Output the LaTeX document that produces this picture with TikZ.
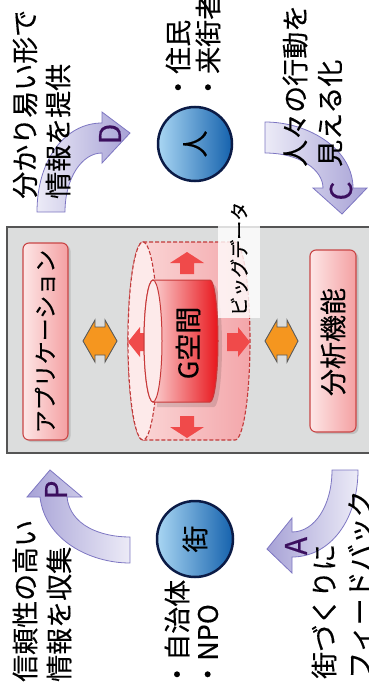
\documentclass[tikz,border=0pt]{standalone}
\usepackage{fontspec}
\newfontfamily\jp[FakeBold=0.3]{Noto Sans CJK JP}
\usetikzlibrary{shadows}
\definecolor{boxred}{HTML}{C94545}
\definecolor{boxlight}{HTML}{FDE6E6}
\definecolor{boxdark}{HTML}{F4A0A2}
\definecolor{arrborder}{HTML}{7D76C2}
\definecolor{arrlight}{HTML}{ECEBF7}
\definecolor{arrdark}{HTML}{A7A2D6}
\definecolor{letterc}{HTML}{3B0F5E}
\definecolor{navyc}{HTML}{0B1B46}
\definecolor{bluel}{HTML}{A9D6F3}
\definecolor{blued}{HTML}{1562AD}
\definecolor{orangec}{HTML}{F5961F}
\definecolor{graydark}{HTML}{5B5B5B}
\definecolor{redarrc}{HTML}{F04A4A}
\definecolor{platform}{HTML}{DCDDDD}
\definecolor{platborder}{HTML}{555555}
\definecolor{cylborder}{HTML}{C23A3A}
\definecolor{cyla}{HTML}{FBDADA}
\definecolor{cylb}{HTML}{F3A6AA}
\definecolor{cylell}{HTML}{FDEAEA}
\definecolor{innerb}{HTML}{C83A3A}
\definecolor{innera}{HTML}{FDE6E6}
\definecolor{innerc}{HTML}{E8161C}
\begin{document}
\begin{tikzpicture}[x=1pt,y=-1pt,
  vt/.style={rotate=90, anchor=west, inner sep=0pt, font=\jp\fontsize{27}{30}\selectfont, text=black},
  vc/.style={rotate=90, inner sep=0pt, font=\jp\fontsize{27}{30}\selectfont, text=black},
  pbox/.style={draw=boxred, line width=1.1pt, rounded corners=6pt, left color=boxlight, right color=boxdark, inner sep=0pt,
    drop shadow={shadow xshift=2.5pt, shadow yshift=-2pt, opacity=0.3}},
  cyclearrow/.style={draw=arrborder, line width=0.8pt, line join=miter},
  letter/.style={rotate=90, inner sep=0pt, font=\jp\fontsize{30}{32}\selectfont, text=letterc},
  person/.style={circle, draw=navyc, line width=2.5pt, left color=bluel, right color=blued, minimum size=74pt, inner sep=0pt},
  dbl/.style={fill=orangec, draw=graydark, line width=0.9pt, line join=miter},
  redblock/.style={fill=redarrc, draw=none},
  cyldash/.style={draw=cylborder, dash pattern=on 4pt off 2pt, line width=1.1pt}
]
\useasboundingbox (0,0) rectangle (369,688);

% platform
\draw[fill=platform, draw=platborder, line width=1.2pt] (7,227) rectangle (385,453);

% side boxes
\node[pbox, minimum width=45pt, minimum height=197pt] (app) at (45.5,341.5) {};
\node[vc, font=\jp\fontsize{23}{25}\selectfont] (apptext) at (45,341.5) {アプリケーション};
\node[pbox, minimum width=46pt, minimum height=182pt] (ana) at (333,341) {};
\node[vc] (anatext) at (333,342) {分析機能};

% orange double arrows
\draw[dbl] (83,341) -- (95,320) -- (95,327) -- (105,327) -- (105,320) -- (117,341)
  -- (105,362) -- (105,355) -- (95,355) -- (95,362) -- cycle;
\draw[dbl] (265,341) -- (277,320) -- (277,327) -- (287,327) -- (287,320) -- (298,341)
  -- (287,362) -- (287,355) -- (277,355) -- (277,362) -- cycle;

% outer cylinder
\path[cyldash, left color=cyla, right color=cylb] (143,242) -- (235,242)
  arc[start angle=-90, end angle=90, x radius=15, y radius=99] -- (143,440)
  arc[start angle=90, end angle=270, x radius=15, y radius=99] -- cycle;
\draw[cyldash, fill=cylell] (143,341) ellipse [x radius=15, y radius=99];

% red block arrows
\fill[redblock] (187,252) -- (204,263) -- (194,263) -- (194,274) -- (180,274) -- (180,263) -- (170,263) -- cycle;
\fill[redblock] (187,438) -- (204,427) -- (194,427) -- (194,416) -- (180,416) -- (180,427) -- (170,427) -- cycle;
\fill[redblock] (128,342) -- (140,327) -- (140,333) -- (151,333) -- (151,351) -- (140,351) -- (140,357) -- cycle;
\fill[redblock] (250,342) -- (238,327) -- (238,333) -- (227,333) -- (227,351) -- (238,351) -- (238,357) -- cycle;

% inner cylinder
\fill[black, opacity=0.12] (157,285) -- (214,285)
  arc[start angle=-90, end angle=90, x radius=8, y radius=61] -- (157,407) -- cycle;
\path[draw=innerb, line width=1pt, left color=innera, right color=innerc] (153,280) -- (210,280)
  arc[start angle=-90, end angle=90, x radius=8, y radius=61] -- (153,402)
  arc[start angle=90, end angle=270, x radius=9, y radius=61] -- cycle;
\draw[draw=innerb, line width=1pt, fill=cylell] (153,341) ellipse [x radius=9, y radius=61];
\node[vc] (gspace) at (188,343) {G空間};

% big data label
\node[fill=white, fill opacity=0.8, inner sep=0pt, minimum width=42pt, minimum height=98pt] (bdbox) at (239,269) {};
\node[vt, font=\jp\fontsize{19}{21}\selectfont] (bigdata) at (239,316) {ビッグデータ};

% cycle arrows
\path[cyclearrow, left color=arrlight, right color=arrdark]
  (37,212) .. controls (37,160) and (65,123) .. (102,123) -- (102,112) -- (130,133) -- (102,163)
  -- (102,153) .. controls (82,153) and (65,178) .. (65,212) -- cycle;
\path[cyclearrow, left color=arrlight, right color=arrdark]
  (265,122) .. controls (310,122) and (353,150) .. (353,188) -- (367,188) -- (342,214) -- (313,188)
  -- (323,188) .. controls (323,170) and (300,153) .. (265,153) -- cycle;
\path[cyclearrow, left color=arrdark, right color=arrlight]
  (40,497) .. controls (45,540) and (90,563) .. (130,563) -- (130,537)
  .. controls (100,537) and (70,525) .. (67,497) -- (82,497) -- (50,470) -- (27,497) -- cycle;
\path[cyclearrow, left color=arrdark, right color=arrlight]
  (358,470) .. controls (358,520) and (330,557) .. (292,557) -- (292,573) -- (267,549) -- (292,518)
  -- (292,532) .. controls (315,532) and (332,505) .. (332,470) -- cycle;
\node[letter] (lD) at (110,134) {D};
\node[letter] (lC) at (341,191) {C};
\node[letter] (lP) at (56,490) {P};
\node[letter] (lA) at (296,546) {A};

% persons
\node[person] (hito) at (195,144) {};
\node[vc] (hitotext) at (195,144) {人};
\node[person, minimum size=76pt] (machi) at (195,539) {};
\node[vc] (machitext) at (195,539) {街};

% texts
\node[vt] (t1) at (25,199) {分かり易い形で};
\node[vt] (t2) at (58,199) {情報を提供};
\node[vt] (t3) at (178,101) {・住民};
\node[vt] (t4) at (208,101) {・来街者};
\node[vt] (t5) at (295,167) {人々の行動を};
\node[vt] (t6) at (330,167) {見える化};
\node[vt] (t7) at (25,682) {信頼性の高い};
\node[vt] (t8) at (59,682) {情報を収集};
\node[vt] (t9) at (177,688) {・自治体};
\node[vt] (t10) at (208,688) {・NPO};
\node[vt] (t11) at (324,679) {街づくりに};
\node[vt] (t12) at (360,679) {フィードバック};
\end{tikzpicture}
\end{document}
